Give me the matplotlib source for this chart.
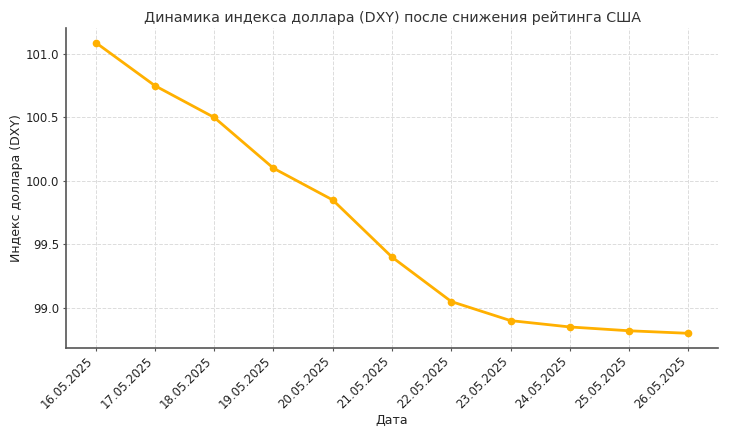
import matplotlib
matplotlib.use('Agg')
import matplotlib.pyplot as plt

# data
dates = ['16.05.2025', '17.05.2025', '18.05.2025', '19.05.2025', '20.05.2025',
         '21.05.2025', '22.05.2025', '23.05.2025', '24.05.2025', '25.05.2025',
         '26.05.2025']
dxy = [101.09, 100.75, 100.50, 100.10, 99.85, 99.40, 99.05, 98.90, 98.85, 98.82, 98.80]

fig, ax = plt.subplots(figsize=(7.29, 4.37), dpi=100)
ax.plot(dates, dxy, color='#FFB000', linewidth=2, marker='o', markersize=4.5)

ax.set_title('Динамика индекса доллара (DXY) после снижения рейтинга США',
             fontsize=10.25, color='#333333', pad=4)
ax.set_xlabel('Дата', fontsize=9, color='#222222', labelpad=2)
ax.set_ylabel('Индекс доллара (DXY)', fontsize=9, color='#222222', labelpad=2)
ax.grid(True, linestyle='--', color='#dcdcdc', linewidth=0.7)
for s in ['top', 'right']:
    ax.spines[s].set_visible(False)
for s in ['left', 'bottom']:
    ax.spines[s].set_color('#555555')
    ax.spines[s].set_linewidth(1.2)
ax.tick_params(colors='#222222', labelsize=8.5, color='#555555', length=2.5, pad=2.5)
plt.setp(ax.get_xticklabels(), rotation=45, ha='right')

plt.subplots_adjust(left=0.0905, right=0.985, top=0.936, bottom=0.204)
plt.savefig('out.png', dpi=100)
